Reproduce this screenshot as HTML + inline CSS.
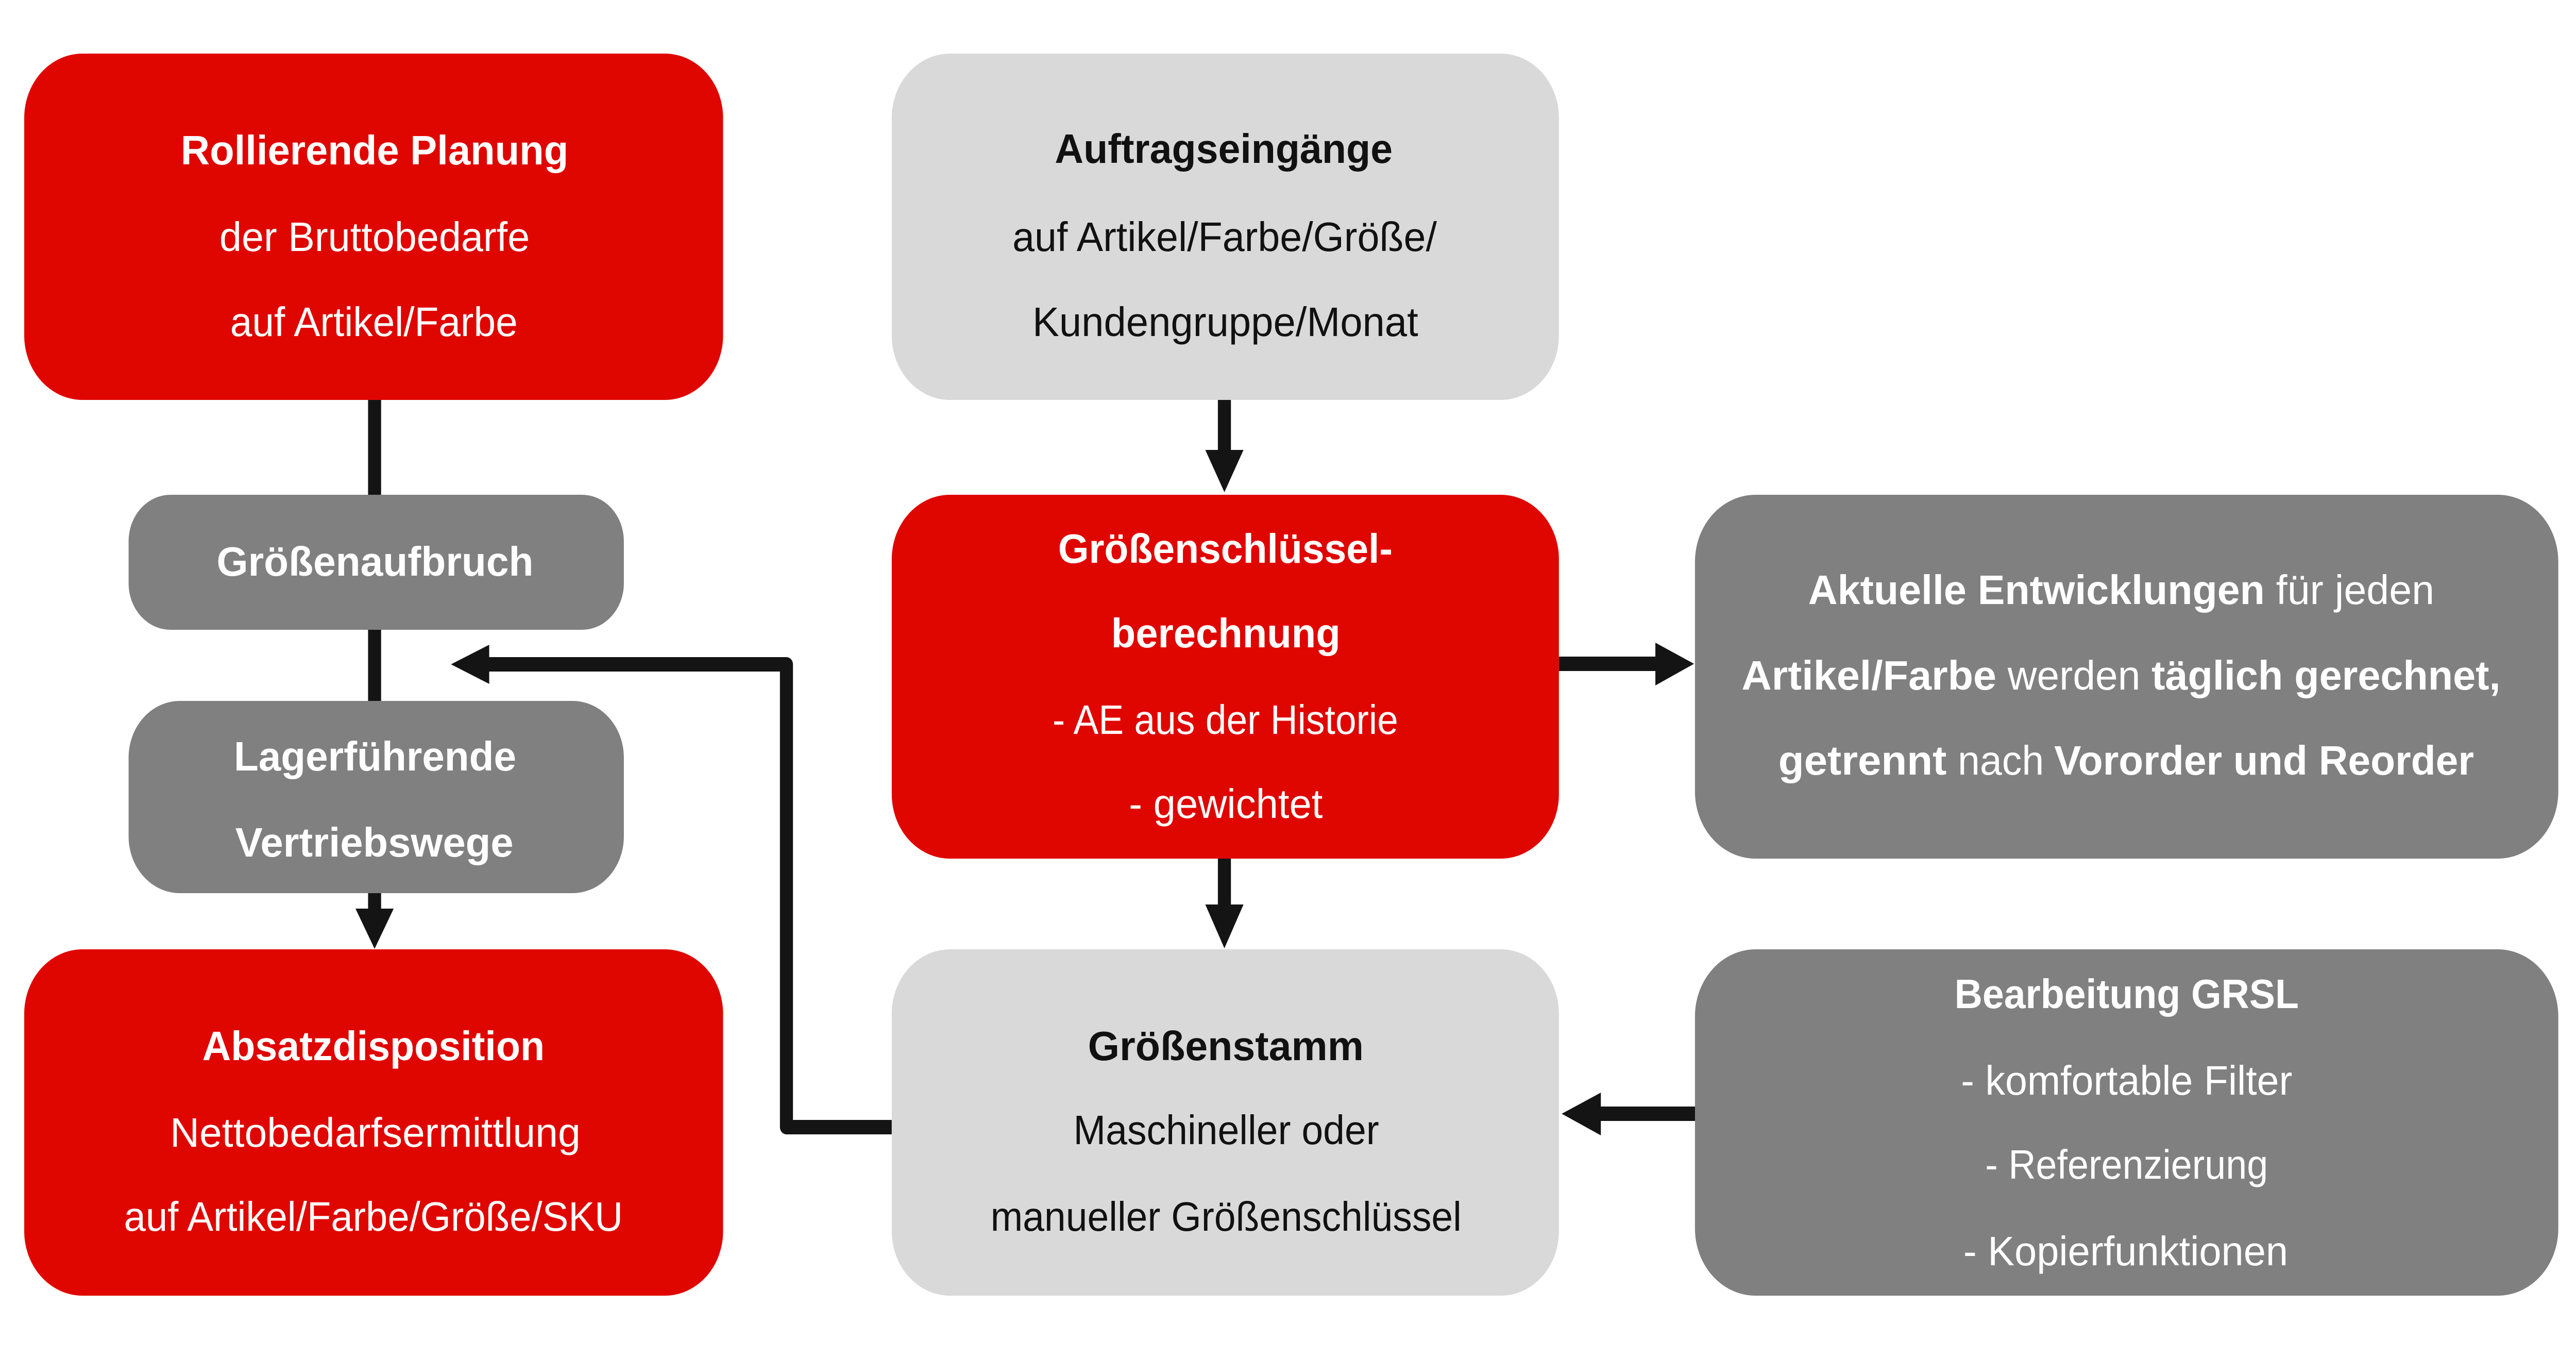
<!DOCTYPE html>
<html><head><meta charset="utf-8"><style>
html,body{margin:0;padding:0;background:#fff;width:100%;height:100%;overflow:hidden;}
svg{display:block;width:100vw;height:100vh;}
text{font-family:"Liberation Sans",sans-serif;font-size:80px;text-anchor:start;}
.b{font-weight:bold;}
.w{fill:#fff;}
.k{fill:#111;}
</style></head><body>
<svg viewBox="0 0 5529 2633" preserveAspectRatio="none" xmlns="http://www.w3.org/2000/svg">
<rect width="5529" height="2633" fill="#fff"/>
<g fill="#141414" stroke="none">
<rect x="790" y="776" width="28" height="990"/>
<polygon points="763,1763 845,1763 804,1841"/>
<rect x="2614" y="776" width="28" height="100"/>
<polygon points="2587,873 2669,873 2628,955"/>
<rect x="2614" y="1666" width="28" height="92"/>
<polygon points="2587,1755 2669,1755 2628,1840"/>
<rect x="3346" y="1274" width="210" height="28"/>
<polygon points="3553,1247 3553,1330 3636,1288"/>
<rect x="3430" y="2147" width="210" height="28"/>
<polygon points="3436,2120 3436,2203 3352,2161"/>
</g>
<path d="M1914 2187 H1688 V1289 H1040" fill="none" stroke="#141414" stroke-width="28" stroke-linejoin="round"/>
<polygon points="1050,1251 1050,1327 968,1289" fill="#141414"/>
<rect x="52" y="104" width="1500" height="672" rx="125" fill="#e00600"/>
<rect x="1914" y="104" width="1432" height="672" rx="125" fill="#d9d9d9"/>
<rect x="276" y="960" width="1063" height="262" rx="90" fill="#808080"/>
<rect x="276" y="1360" width="1063" height="373" rx="110" fill="#808080"/>
<rect x="52" y="1842" width="1500" height="672" rx="125" fill="#e00600"/>
<rect x="1914" y="960" width="1432" height="706" rx="125" fill="#e00600"/>
<rect x="3638" y="960" width="1853" height="706" rx="130" fill="#808080"/>
<rect x="1914" y="1842" width="1432" height="672" rx="125" fill="#d9d9d9"/>
<rect x="3638" y="1842" width="1853" height="672" rx="130" fill="#808080"/>
<text class="b w" x="388" y="319" textLength="832" lengthAdjust="spacingAndGlyphs">Rollierende Planung</text>
<text class="w" x="471" y="487" textLength="666" lengthAdjust="spacingAndGlyphs">der Bruttobedarfe</text>
<text class="w" x="494" y="652" textLength="617" lengthAdjust="spacingAndGlyphs">auf Artikel/Farbe</text>
<text class="b w" x="465" y="1117" textLength="680" lengthAdjust="spacingAndGlyphs">Größenaufbruch</text>
<text class="b w" x="502" y="1495" textLength="606" lengthAdjust="spacingAndGlyphs">Lagerführende</text>
<text class="b w" x="505" y="1662" textLength="597" lengthAdjust="spacingAndGlyphs">Vertriebswege</text>
<text class="b w" x="434" y="2057" textLength="735" lengthAdjust="spacingAndGlyphs">Absatzdisposition</text>
<text class="w" x="365" y="2225" textLength="881" lengthAdjust="spacingAndGlyphs">Nettobedarfsermittlung</text>
<text class="w" x="266" y="2388" textLength="1071" lengthAdjust="spacingAndGlyphs">auf Artikel/Farbe/Größe/SKU</text>
<text class="b k" x="2264" y="316" textLength="725" lengthAdjust="spacingAndGlyphs">Auftragseingänge</text>
<text class="k" x="2173" y="487" textLength="911" lengthAdjust="spacingAndGlyphs">auf Artikel/Farbe/Größe/</text>
<text class="k" x="2216" y="652" textLength="828" lengthAdjust="spacingAndGlyphs">Kundengruppe/Monat</text>
<text class="b w" x="2271" y="1092" textLength="718" lengthAdjust="spacingAndGlyphs">Größenschlüssel-</text>
<text class="b w" x="2385" y="1256" textLength="492" lengthAdjust="spacingAndGlyphs">berechnung</text>
<text class="w" x="2259" y="1424" textLength="742" lengthAdjust="spacingAndGlyphs">- AE aus der Historie</text>
<text class="w" x="2423" y="1587" textLength="416" lengthAdjust="spacingAndGlyphs">- gewichtet</text>
<text class="b w" x="3881" y="1172" textLength="980" lengthAdjust="spacingAndGlyphs">Aktuelle Entwicklungen</text>
<text class="w" x="4885" y="1172" textLength="340" lengthAdjust="spacingAndGlyphs">für jeden</text>
<text class="b w" x="3738" y="1338" textLength="547" lengthAdjust="spacingAndGlyphs">Artikel/Farbe</text>
<text class="w" x="4309" y="1338" textLength="285" lengthAdjust="spacingAndGlyphs">werden</text>
<text class="b w" x="4618" y="1338" textLength="749" lengthAdjust="spacingAndGlyphs">täglich gerechnet,</text>
<text class="b w" x="3817" y="1503" textLength="361" lengthAdjust="spacingAndGlyphs">getrennt</text>
<text class="w" x="4202" y="1503" textLength="185" lengthAdjust="spacingAndGlyphs">nach</text>
<text class="b w" x="4409" y="1503" textLength="901" lengthAdjust="spacingAndGlyphs">Vororder und Reorder</text>
<text class="b k" x="2335" y="2057" textLength="592" lengthAdjust="spacingAndGlyphs">Größenstamm</text>
<text class="k" x="2304" y="2220" textLength="656" lengthAdjust="spacingAndGlyphs">Maschineller oder</text>
<text class="k" x="2126" y="2388" textLength="1011" lengthAdjust="spacingAndGlyphs">manueller Größenschlüssel</text>
<text class="b w" x="4195" y="1956" textLength="739" lengthAdjust="spacingAndGlyphs">Bearbeitung GRSL</text>
<text class="w" x="4209" y="2124" textLength="711" lengthAdjust="spacingAndGlyphs">- komfortable Filter</text>
<text class="w" x="4261" y="2287" textLength="607" lengthAdjust="spacingAndGlyphs">- Referenzierung</text>
<text class="w" x="4214" y="2455" textLength="697" lengthAdjust="spacingAndGlyphs">- Kopierfunktionen</text>
</svg>
</body></html>
